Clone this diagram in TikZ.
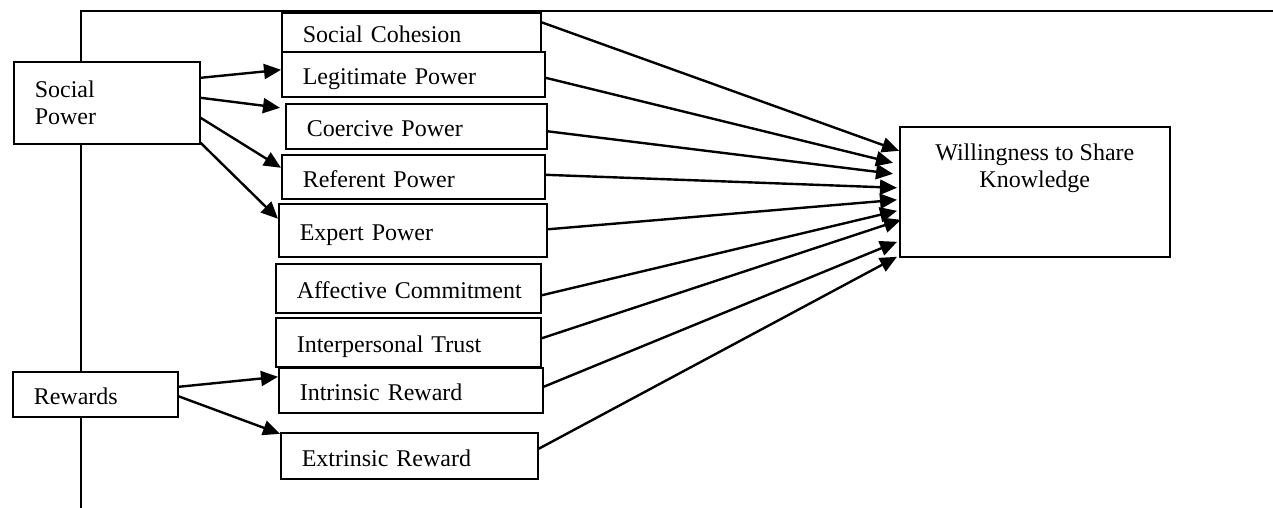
\documentclass[tikz,border=0pt]{standalone}
\usepackage{fontspec}
\setmainfont{Liberation Serif}
\usetikzlibrary{arrows.meta}
\tikzset{
  box/.style={draw, line width=0.8pt, rectangle, anchor=north west, align=left,
    inner xsep=10.5pt, fill=white, font=\fontsize{12}{13.5}\selectfont},
  item/.style={box, text height=10.5pt, text depth=0pt},
  link/.style={->, line width=1.2pt},
}
\begin{document}
\begin{tikzpicture}[x=0.5pt, y=-0.5pt, >={Triangle[length=8.5pt,width=7.5pt]}]
\useasboundingbox (0,0) rectangle (1273,508);
\draw [line width=0.8pt] (81,508) |- (1273,11);
% antecedents
\node [box, text width=72pt, minimum height=41pt] (sp) at (13,61) {Social\\Power};
\node [item, text width=61.5pt, minimum height=22.5pt] (rw) at (12,371) {Rewards};
% mediators
\node [item, text width=108.5pt, minimum height=19.5pt] (sc) at (281,12) {Social Cohesion};
\node [item, text width=110.5pt, minimum height=22.5pt] (lp) at (281,51) {Legitimate Power};
\node [item, text width=109.5pt, minimum height=22.5pt] (cp) at (285,103) {Coercive Power};
\node [item, text width=110.5pt, minimum height=22pt] (rp) at (281,154) {Referent Power};
\node [item, text width=113pt, minimum height=26.5pt] (ep) at (278,203) {Expert Power};
\node [item, text width=111.5pt, minimum height=24.5pt] (ac) at (275,263) {\mbox{Affective Commitment}};
\node [item, text width=111.5pt, minimum height=24.5pt] (it) at (275,317) {Interpersonal Trust};
\node [item, text width=111pt, minimum height=22.5pt] (ir) at (278,367) {Intrinsic Reward};
\node [item, text width=107.5pt, minimum height=23pt] (er) at (280,432) {Extrinsic Reward};
% outcome
\node [draw, line width=0.8pt, anchor=north west, minimum width=135pt, minimum height=65pt,
  label={[anchor=north, yshift=-5.5pt, align=center, font=\fontsize{12}{13.5}\selectfont]north:Willingness to Share\\Knowledge}] (wsk) at (899,126) {};
\draw [link] ([yshift=12.5pt]sp.east) -- ([yshift=2.25pt]lp.west);
\draw [link] ([yshift=2.5pt]sp.east) -- ([xshift=-2.5pt,yshift=9.25pt]cp.west);
\draw [link] ([yshift=-7.5pt]sp.east) -- ([yshift=4.5pt]rp.west);
\draw [link] ([yshift=-20pt]sp.east) -- ([yshift=5.75pt]ep.west);
\draw [link] ([yshift=3.75pt]rw.east) -- ([yshift=6.75pt]ir.west);
\draw [link] ([yshift=-1pt]rw.east) -- ([yshift=11pt]er.west);
\draw [link] ([yshift=5pt]sc.east) -- ([yshift=20.5pt]wsk.west);
\draw [link] ([yshift=-1.75pt]lp.east) -- ([xshift=-3pt,yshift=14.5pt]wsk.west);
\draw [link] ([yshift=-2.5pt]cp.east) -- ([xshift=-3pt,yshift=9pt]wsk.west);
\draw [link] ([yshift=1pt]rp.east) -- ([xshift=-1pt,yshift=2pt]wsk.west);
\draw [link] ([yshift=0.5pt]ep.east) -- ([xshift=-1pt,yshift=-4pt]wsk.west);
\draw [link] ([yshift=-3.5pt]ac.east) -- ([xshift=-1pt,yshift=-9.5pt]wsk.west);
\draw [link] ([yshift=2pt]it.east) -- ([xshift=1pt,yshift=-14pt]wsk.west);
\draw [link] ([yshift=1.75pt]ir.east) -- ([xshift=-1pt,yshift=-25pt]wsk.west);
\draw [link] ([yshift=3.5pt]er.east) -- ([xshift=-1pt,yshift=-32.5pt]wsk.west);
\end{tikzpicture}
\end{document}
